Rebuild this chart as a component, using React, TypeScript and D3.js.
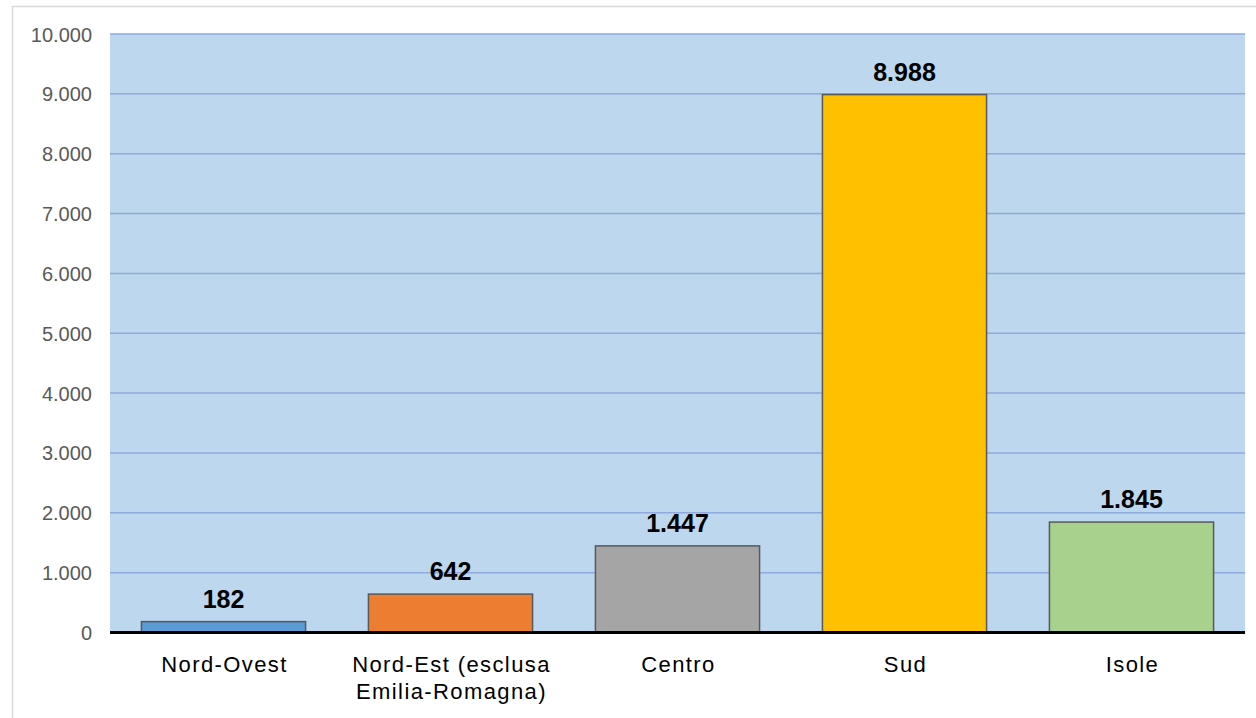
import React, { useEffect, useRef } from "react";
import * as d3 from "d3";

const categories = [
  ["Nord-Ovest"],
  ["Nord-Est (esclusa", "Emilia-Romagna)"],
  ["Centro"],
  ["Sud"],
  ["Isole"],
];
const values = [182, 642, 1447, 8988, 1845];
const colors = ["#5b9bd5", "#ed7d31", "#a5a5a5", "#ffc000", "#a9d18e"];
const yTicks = [0, 1000, 2000, 3000, 4000, 5000, 6000, 7000, 8000, 9000, 10000];

const W = 1256;
const H = 718;
const FONT = "'Liberation Sans', Arial, sans-serif";

// Italian style thousands separator
const fmt = (v: number) => d3.format(",")(v).replace(/,/g, ".");

export default function App() {
  const ref = useRef<SVGSVGElement>(null);

  useEffect(() => {
    const svg = d3.select(ref.current);
    svg.selectAll("*").remove();

    const left = 110;
    const right = 1245;
    const top = 34;
    const bottom = 632.5;

    // chart frame
    svg
      .append("rect")
      .attr("x", 12.5)
      .attr("y", 6.5)
      .attr("width", W + 10)
      .attr("height", H + 10)
      .attr("fill", "#fff")
      .attr("stroke", "#d9d9d9")
      .attr("stroke-width", 1.5);

    const x = d3
      .scaleBand<number>()
      .domain(d3.range(values.length))
      .range([left, right])
      .paddingInner(0.277)
      .paddingOuter(0.1385);

    const y = d3.scaleLinear().domain([0, 10000]).range([bottom, top]);

    // plot background
    svg
      .append("rect")
      .attr("x", left)
      .attr("y", top)
      .attr("width", right - left)
      .attr("height", bottom - top)
      .attr("fill", "#bdd7ee");

    // gridlines
    svg
      .append("g")
      .selectAll("line")
      .data(yTicks.filter((t) => t > 0))
      .enter()
      .append("line")
      .attr("x1", left)
      .attr("x2", right)
      .attr("y1", (d) => y(d))
      .attr("y2", (d) => y(d))
      .attr("stroke", "#8faadc")
      .attr("stroke-width", 1.5);

    // y tick labels
    svg
      .append("g")
      .selectAll("text")
      .data(yTicks)
      .enter()
      .append("text")
      .attr("x", 92)
      .attr("y", (d) => y(d) + 7.5)
      .attr("text-anchor", "end")
      .attr("font-family", FONT)
      .attr("font-size", 20)
      .attr("fill", "#595959")
      .text((d) => fmt(d));

    // bars
    svg
      .append("g")
      .selectAll("rect")
      .data(values)
      .enter()
      .append("rect")
      .attr("x", (_, i) => x(i)!)
      .attr("y", (d) => y(d))
      .attr("width", x.bandwidth())
      .attr("height", (d) => bottom - y(d))
      .attr("fill", (_, i) => colors[i])
      .attr("stroke", "#595959")
      .attr("stroke-width", 1.5);

    // value labels
    svg
      .append("g")
      .selectAll("text")
      .data(values)
      .enter()
      .append("text")
      .attr("x", (_, i) => x(i)! + x.bandwidth() / 2)
      .attr("y", (d) => y(d) - 14)
      .attr("text-anchor", "middle")
      .attr("font-family", FONT)
      .attr("font-weight", "bold")
      .attr("font-size", 25)
      .attr("fill", "#000")
      .text((d) => fmt(d));

    // baseline
    svg
      .append("line")
      .attr("x1", left)
      .attr("x2", right)
      .attr("y1", bottom)
      .attr("y2", bottom)
      .attr("stroke", "#000")
      .attr("stroke-width", 3);

    // category labels
    const cat = svg
      .append("g")
      .selectAll("text")
      .data(categories)
      .enter()
      .append("text")
      .attr("x", (_, i) => x(i)! + x.bandwidth() / 2 + 1)
      .attr("y", 672)
      .attr("text-anchor", "middle")
      .attr("font-family", FONT)
      .attr("font-size", 22)
      .attr("letter-spacing", 1.4)
      .attr("fill", "#000");

    cat
      .selectAll("tspan")
      .data((d) => d)
      .enter()
      .append("tspan")
      .attr("x", function () {
        return (this.parentNode as SVGTextElement).getAttribute("x");
      })
      .attr("dy", (_, j) => (j === 0 ? 0 : 27))
      .text((d) => d);
  }, []);

  return (
    <svg
      ref={ref}
      width={W}
      height={H}
      style={{ position: "absolute", left: 0, top: 0, display: "block" }}
    />
  );
}
